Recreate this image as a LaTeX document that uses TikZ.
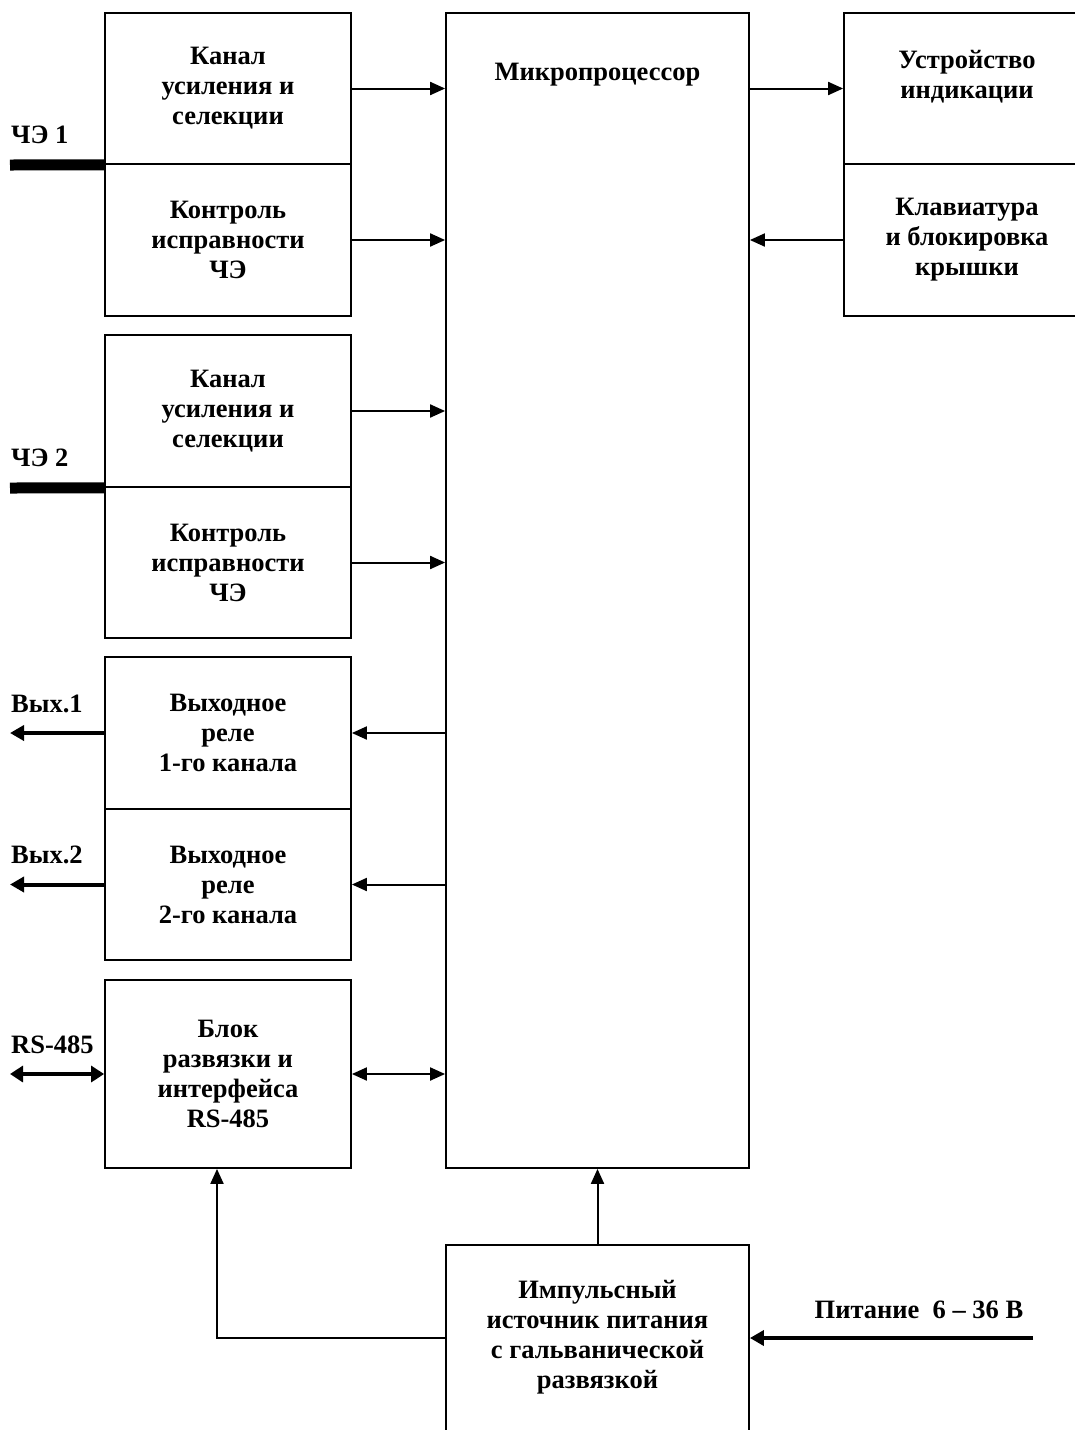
\documentclass[tikz,border=0pt]{standalone}
\usepackage{fontspec}
\setmainfont{Liberation Serif}
\usetikzlibrary{arrows.meta}
\begin{document}
\begin{tikzpicture}[x=1pt,y=-1pt,
  blk/.style={draw,line width=1.8pt,inner sep=0pt,align=center,font=\bfseries\fontsize{26.5}{30}\selectfont},
  txt/.style={inner sep=0pt,align=center,font=\bfseries\fontsize{26.5}{30}\selectfont},
  lbl/.style={inner sep=0pt,anchor=west,font=\bfseries\fontsize{26.5}{30}\selectfont},
  arr/.style={line width=2pt,-{Triangle[length=15pt,width=13pt]}},
  bi/.style={line width=2pt,{Triangle[length=15pt,width=13pt]}-{Triangle[length=15pt,width=13pt]}},
  thickarr/.style={line width=4pt,-{Triangle[length=14pt,width=15pt]}},
  thickbi/.style={line width=4pt,{Triangle[length=13pt,width=16pt]}-{Triangle[length=13pt,width=16pt]}},
  bar/.style={line width=11pt}
]
\useasboundingbox (0,0) rectangle (1075,1430);

% left column boxes
\node[blk,minimum width=246pt,minimum height=151pt] (ch1) at (228,88.5) {Канал\\усиления и\\селекции};
\node[blk,minimum width=246pt,minimum height=152pt] (ctl1) at (228,240) {Контроль\\исправности\\ЧЭ};
\node[blk,minimum width=246pt,minimum height=152pt] (ch2) at (228,411) {Канал\\усиления и\\селекции};
\node[blk,minimum width=246pt,minimum height=151pt] (ctl2) at (228,562.5) {Контроль\\исправности\\ЧЭ};
\node[blk,minimum width=246pt,minimum height=152pt] (rel1) at (228,733) {Выходное\\реле\\1-го канала};
\node[blk,minimum width=246pt,minimum height=151pt] (rel2) at (228,884.5) {Выходное\\реле\\2-го канала};
\node[blk,minimum width=246pt,minimum height=188pt] (rs) at (228,1074) {Блок\\развязки и\\интерфейса\\RS-485};

% microprocessor
\node[blk,minimum width=303pt,minimum height=1155pt] (mcu) at (597.5,590.5) {};
\node[txt] (mcut) at (597.5,75) {Микропроцессор};

% right boxes
\node[blk,minimum width=246pt,minimum height=151pt] (ind) at (967,88.5) {};
\node[txt] (indt) at (967,77) {Устройство\\индикации};
\node[blk,minimum width=246pt,minimum height=152pt] (kbd) at (967,240) {Клавиатура\\и блокировка\\крышки};

% power supply
\node[blk,minimum width=303pt,minimum height=200pt] (psu) at (597.5,1345) {};
\node[txt] (psut) at (597.5,1337) {Импульсный\\источник питания\\с гальванической\\развязкой};

% arrows to and from microprocessor
\draw[arr] (ch1.east) -- (mcu.west |- ch1.east);
\draw[arr] (ctl1.east) -- (mcu.west |- ctl1.east);
\draw[arr] (ch2.east) -- (mcu.west |- ch2.east);
\draw[arr] (ctl2.east) -- (mcu.west |- ctl2.east);
\draw[arr] (mcu.west |- rel1.east) -- (rel1.east);
\draw[arr] (mcu.west |- rel2.east) -- (rel2.east);
\draw[bi] (rs.east) -- (mcu.west |- rs.east);
\draw[arr] (mcu.east |- ind.west) -- (ind.west);
\draw[arr] (kbd.west) -- (mcu.east |- kbd.west);

% power
\draw[arr] (psu.north) -- (mcu.south);
\coordinate (psy) at (0,1338);
\coordinate (rsx) at (217,0);
\draw[arr] (psu.west |- psy) -| (rs.south -| rsx);
\coordinate (pin) at (1033,1338);
\draw[thickarr] (pin) -- (psu.east |- pin);
\node[txt] (pint) at (919,1310) {Питание~~6 – 36 В};

% external connections
\coordinate (e1) at (10,165);
\coordinate (e2) at (10,488);
\draw[bar] (ch1.south west) -- (e1);
\draw[bar] (ch2.south west) -- (e2);
\node[lbl] (e1t) at (11,135) {ЧЭ 1};
\node[lbl] (e2t) at (11,458) {ЧЭ 2};

\coordinate (o1) at (10,733);
\coordinate (o2) at (10,884.5);
\draw[thickarr] (rel1.west) -- (o1);
\draw[thickarr] (rel2.west) -- (o2);
\node[lbl] (o1t) at (11,704) {Вых.1};
\node[lbl] (o2t) at (11,855) {Вых.2};

\coordinate (r1) at (10,1074);
\draw[thickbi] (r1) -- (rs.west);
\node[lbl] (r1t) at (11,1045) {RS-485};
\end{tikzpicture}
\end{document}
